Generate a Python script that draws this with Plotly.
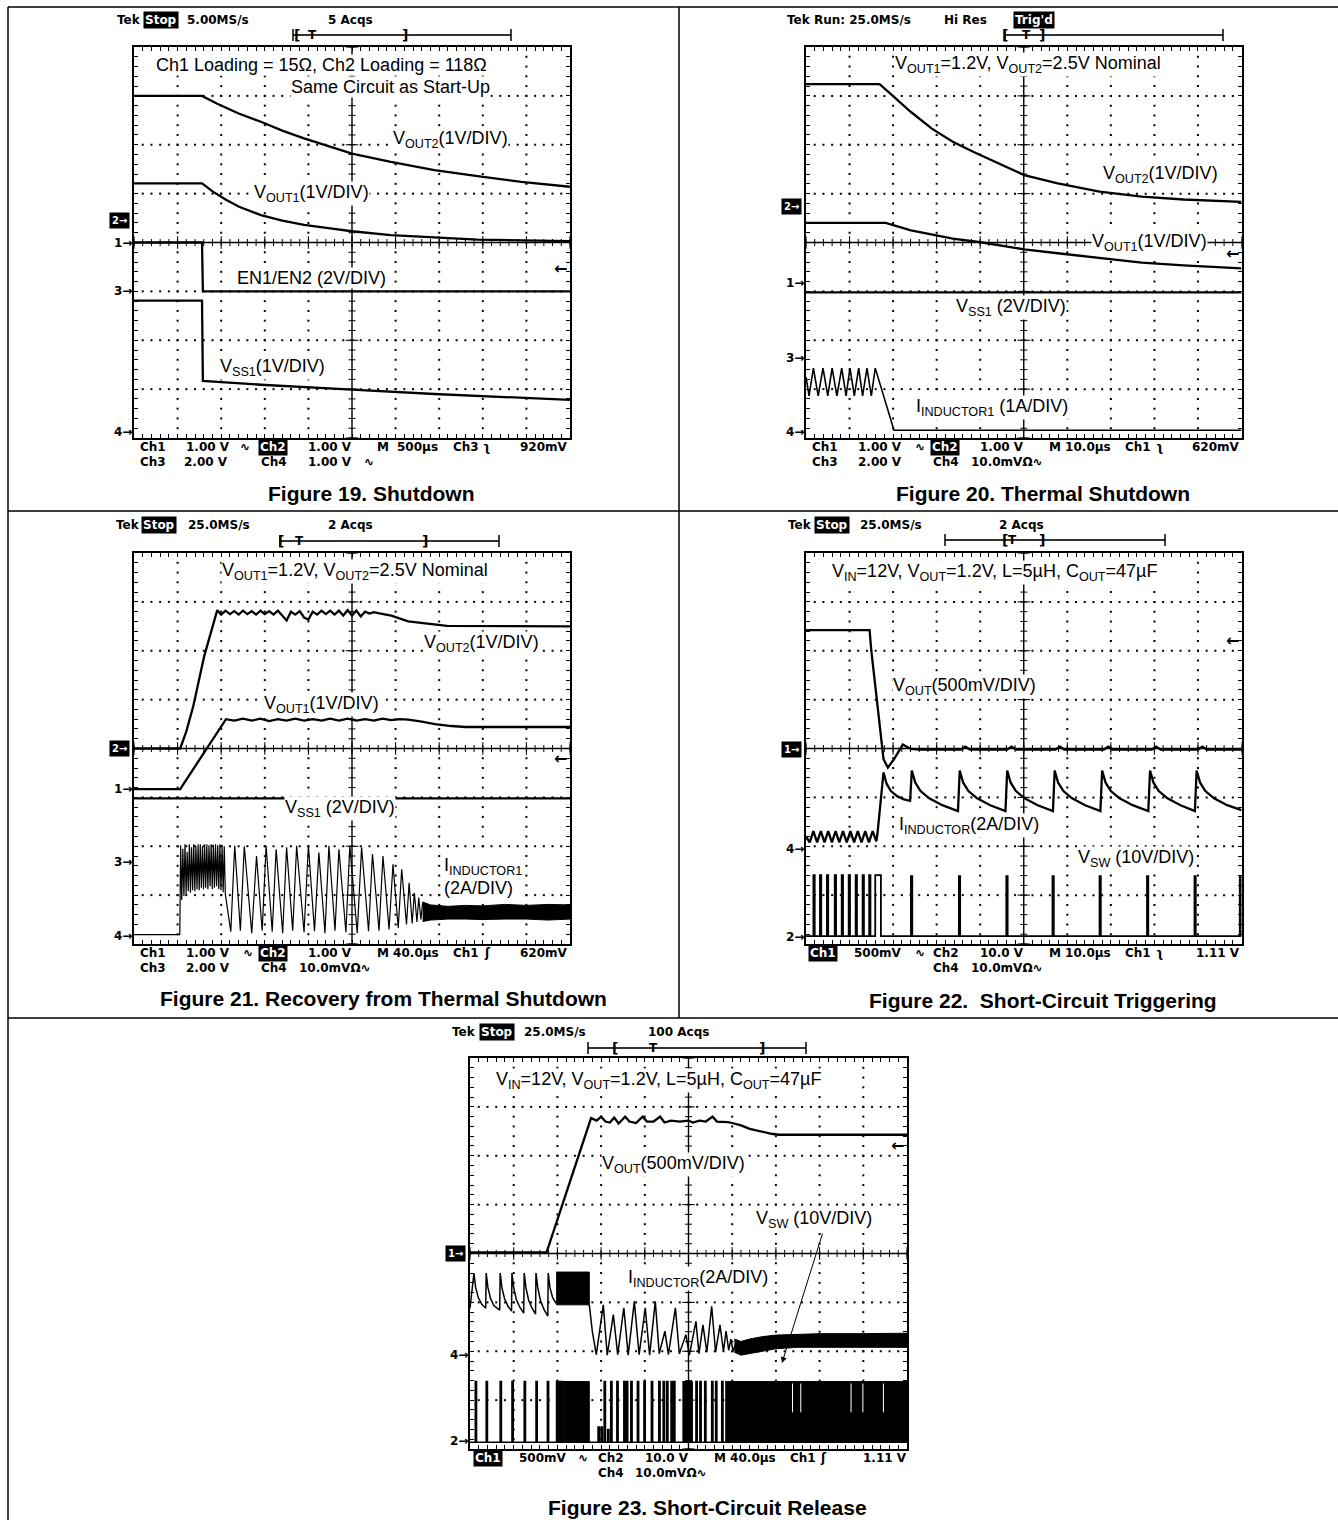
import numpy as np
import plotly.graph_objects as go

W, H = 1338, 1520
LBL = "Liberation Sans, Arial, Helvetica, sans-serif"
TEK = "DejaVu Sans, Verdana, sans-serif"

# ===================== DATA (scope divisions: time 0..10 div, level 0..8 div) =====================
# ---- Figure 19. Shutdown ----
F19_VOUT2_T = [0, 1.56, 1.91, 2.40, 2.91, 3.40, 3.90, 4.50, 5.00, 5.89, 6.89, 7.88, 8.88, 10.0]
F19_VOUT2_V = [7.00, 7.00, 6.84, 6.64, 6.47, 6.29, 6.13, 5.96, 5.82, 5.65, 5.48, 5.36, 5.24, 5.14]
F19_VOUT1_T = [0, 1.56, 1.81, 2.10, 2.41, 2.91, 3.40, 3.90, 4.50, 5.00, 5.89, 6.89, 7.88, 10.0]
F19_VOUT1_V = [5.21, 5.21, 5.04, 4.88, 4.73, 4.56, 4.45, 4.36, 4.29, 4.23, 4.15, 4.10, 4.06, 4.03]
F19_EN_T = [0, 1.56, 1.58, 10.0]
F19_EN_V = [4.00, 4.00, 3.00, 3.00]
F19_VSS_T = [0, 1.56, 1.58, 2.91, 5.00, 6.89, 10.0]
F19_VSS_V = [2.81, 2.81, 1.17, 1.09, 0.99, 0.90, 0.78]

# ---- Figure 20. Thermal Shutdown ----
F20_VOUT2_T = [0, 1.69, 2.02, 2.41, 2.89, 3.37, 3.85, 4.34, 5.01, 5.78, 6.74, 7.71, 8.67, 10.0]
F20_VOUT2_V = [7.24, 7.24, 6.98, 6.67, 6.33, 6.06, 5.85, 5.65, 5.38, 5.21, 5.04, 4.94, 4.88, 4.83]
F20_VOUT1_T = [0, 1.83, 2.41, 3.37, 4.05, 5.01, 5.78, 6.74, 7.71, 8.67, 10.0]
F20_VOUT1_V = [4.40, 4.40, 4.25, 4.08, 4.00, 3.86, 3.78, 3.68, 3.59, 3.53, 3.47]
F20_VSS_T = [0, 10.0]
F20_VSS_V = [2.98, 2.98]
F20_IL_T = [0, 0.07, 0.17, 0.28, 0.39, 0.50, 0.60, 0.71, 0.82, 0.92,
            1.01, 1.11, 1.21, 1.30, 1.40, 1.50, 1.59, 2.02, 10.0]
F20_IL_V = [1.25, 0.86, 1.43, 0.86, 1.43, 0.86, 1.43, 0.86, 1.43, 0.86,
            1.43, 0.86, 1.43, 0.86, 1.43, 0.86, 1.43, 0.16, 0.16]

# ---- Figure 21. Recovery from Thermal Shutdown ----
F21_VOUT2_T = [0, 1.06, 1.20, 1.36, 1.61, 1.80, 1.91,
               2.00, 2.10, 2.20, 2.30, 2.40, 2.50, 2.60, 2.70, 2.80, 2.90,
               3.00, 3.10, 3.20, 3.30, 3.40, 3.50, 3.60, 3.70, 3.80, 3.90,
               4.00, 4.10, 4.20, 4.30, 4.40, 4.50, 4.60, 4.70, 4.80, 4.90,
               5.00, 5.10, 5.20, 5.30, 5.40, 5.50, 5.60,
               5.90, 6.29, 6.69, 7.18, 10.0]
F21_VOUT2_V = [4.00, 4.00, 4.35, 4.87, 5.89, 6.50, 6.83,
               6.74, 6.82, 6.75, 6.81, 6.74, 6.82, 6.75, 6.81, 6.74, 6.82,
               6.75, 6.81, 6.74, 6.82, 6.72, 6.62, 6.80, 6.74, 6.81, 6.68,
               6.64, 6.80, 6.74, 6.82, 6.75, 6.82, 6.74, 6.82, 6.72, 6.83,
               6.72, 6.82, 6.70, 6.80, 6.76, 6.79, 6.77,
               6.72, 6.60, 6.56, 6.51, 6.50]
F21_VOUT1_T = [0, 1.06, 2.11, 2.30, 2.50, 2.70, 2.90, 3.10, 3.30, 3.50,
               3.70, 3.90, 4.10, 4.30, 4.50, 4.70, 4.90, 5.10, 5.30, 5.50,
               5.70, 5.90, 6.10, 6.29, 6.60, 6.90, 7.28, 7.60, 10.0]
F21_VOUT1_V = [3.17, 3.17, 4.60, 4.57, 4.61, 4.57, 4.61, 4.56, 4.60, 4.57,
               4.61, 4.57, 4.60, 4.57, 4.61, 4.57, 4.61, 4.57, 4.60, 4.57,
               4.61, 4.58, 4.60, 4.59, 4.55, 4.50, 4.46, 4.44, 4.44]
F21_VSS_T = [0, 10.0]
F21_VSS_V = [2.98, 2.98]
F21_IL_T = [0, 1.05, 1.07,
            1.095, 1.120, 1.145, 1.170, 1.195, 1.220, 1.245, 1.270, 1.295, 1.320,
            1.345, 1.370, 1.395, 1.420, 1.445, 1.470, 1.495, 1.520, 1.545, 1.570,
            1.595, 1.620, 1.645, 1.670, 1.695, 1.720, 1.745, 1.770, 1.795, 1.820,
            1.845, 1.870, 1.895, 1.920, 1.945, 1.970, 1.995, 2.020, 2.045, 2.070,
            2.095,
            2.22, 2.31, 2.44, 2.53, 2.70, 2.81, 2.94, 3.03, 3.17, 3.26,
            3.41, 3.50, 3.64, 3.73, 3.90, 4.00, 4.14, 4.24, 4.38, 4.47,
            4.61, 4.70, 4.86, 4.95, 5.12, 5.22, 5.38, 5.47, 5.62, 5.71,
            5.85, 5.94, 6.06, 6.14, 6.25, 6.31, 6.38, 6.43, 6.49, 6.53,
            6.58, 6.62]
F21_IL_V = [0.19, 0.19, 2.02,
            0.90, 1.95, 0.98, 2.04, 1.02, 1.88, 1.08, 2.04, 1.05, 1.98,
            1.10, 2.04, 1.08, 2.00, 1.12, 2.04, 1.10, 2.04, 1.15, 2.00,
            1.12, 2.04, 1.15, 2.04, 1.12, 2.02, 1.18, 2.04, 1.12, 2.03,
            1.15, 2.04, 1.18, 2.02, 1.12, 2.04, 1.10, 2.03, 1.06, 2.00,
            1.02,
            0.25, 2.01, 0.27, 2.00, 0.22, 1.80, 0.27, 2.01, 0.25, 1.94,
            0.22, 1.98, 0.27, 2.01, 0.24, 2.01, 0.26, 1.87, 0.22, 2.01,
            0.27, 1.94, 0.24, 2.01, 0.22, 1.98, 0.26, 1.84, 0.27, 1.80,
            0.30, 1.63, 0.33, 1.53, 0.40, 1.25, 0.42, 1.05, 0.45, 0.95,
            0.50, 0.85]
F21_ILBAND_T = [6.62, 6.80, 7.20, 7.60, 8.00, 8.50, 9.00, 9.50, 10.0]
F21_ILBAND_HI = [0.86, 0.80, 0.77, 0.79, 0.78, 0.81, 0.79, 0.81, 0.80]
F21_ILBAND_LO = [0.46, 0.49, 0.51, 0.51, 0.50, 0.51, 0.51, 0.49, 0.51]

# ---- Figure 22. Short-Circuit Triggering ----
F22_VOUT_T = [0, 1.46, 1.50, 1.64, 1.78, 1.88, 2.02, 2.22, 2.41, 2.60,
              3.56, 3.66, 3.76, 4.62, 4.72, 4.82, 5.73, 5.83, 5.93, 6.84,
              6.94, 7.04, 7.94, 8.04, 8.14, 9.00, 9.10, 9.20, 10.0]
F22_VOUT_V = [6.42, 6.42, 6.00, 4.87, 3.78, 3.61, 3.78, 4.08, 3.99, 3.98,
              3.98, 4.04, 3.98, 3.98, 4.04, 3.98, 3.98, 4.04, 3.98, 3.98,
              4.04, 3.98, 3.98, 4.04, 3.98, 3.98, 4.04, 3.98, 3.98]
F22_IL_T = [0, 0.085, 0.17, 0.255, 0.34, 0.425, 0.51, 0.595, 0.68, 0.765,
            0.85, 0.935, 1.02, 1.105, 1.19, 1.275, 1.36, 1.445, 1.53, 1.615,
            1.64, 1.78, 1.85, 1.95, 2.10, 2.25, 2.39,
            2.43, 2.51, 2.63, 2.83, 3.13, 3.49,
            3.53, 3.61, 3.73, 3.93, 4.23, 4.58,
            4.62, 4.70, 4.82, 5.02, 5.32, 5.67,
            5.71, 5.79, 5.91, 6.11, 6.41, 6.76,
            6.80, 6.88, 7.00, 7.20, 7.50, 7.86,
            7.90, 7.98, 8.10, 8.30, 8.60, 8.93,
            8.97, 9.05, 9.17, 9.37, 9.67, 10.0]
F22_IL_V = [2.20, 2.08, 2.31, 2.08, 2.31, 2.08, 2.31, 2.08, 2.31, 2.08,
            2.31, 2.08, 2.31, 2.08, 2.31, 2.08, 2.31, 2.08, 2.31, 2.10,
            2.25, 3.51, 3.28, 3.13, 3.02, 2.96, 2.93,
            3.55, 3.30, 3.13, 2.98, 2.84, 2.72,
            3.55, 3.30, 3.13, 2.98, 2.84, 2.72,
            3.55, 3.30, 3.13, 2.98, 2.84, 2.72,
            3.55, 3.30, 3.13, 2.98, 2.84, 2.72,
            3.55, 3.30, 3.13, 2.98, 2.84, 2.72,
            3.55, 3.30, 3.13, 2.98, 2.84, 2.72,
            3.55, 3.30, 3.13, 2.98, 2.84, 2.74]
F22_VSW_BASE = 0.16
F22_VSW_START = [0.17, 0.32, 0.48, 0.66, 0.82, 0.98, 1.14, 1.30, 1.45, 1.59,
                 2.41, 3.51, 4.60, 5.66, 6.74, 7.83, 8.92, 9.96]
F22_VSW_WIDTH = [0.03, 0.03, 0.03, 0.03, 0.03, 0.03, 0.03, 0.03, 0.03, 0.13,
                 0.03, 0.03, 0.03, 0.03, 0.03, 0.03, 0.03, 0.03]
F22_VSW_TOP = [1.41, 1.41, 1.41, 1.41, 1.41, 1.41, 1.41, 1.41, 1.41, 1.41,
               1.39, 1.39, 1.39, 1.39, 1.39, 1.39, 1.39, 1.39]

# ---- Figure 23. Short-Circuit Release ----
F23_VOUT_T = [0, 1.75, 2.77, 2.90, 3.00, 3.10, 3.20, 3.30, 3.40, 3.55,
              3.65, 3.80, 3.95, 4.05, 4.20, 4.35, 4.45, 4.60, 4.80, 5.00,
              5.10, 5.25, 5.40, 5.55, 5.65, 5.90, 6.00, 6.20, 6.40, 6.67,
              6.90, 7.06, 10.0]
F23_VOUT_V = [4.02, 4.02, 6.77, 6.72, 6.80, 6.70, 6.68, 6.78, 6.66, 6.80,
              6.70, 6.67, 6.80, 6.70, 6.70, 6.80, 6.68, 6.72, 6.70, 6.72,
              6.68, 6.72, 6.70, 6.80, 6.70, 6.69, 6.67, 6.62, 6.55, 6.49,
              6.45, 6.43, 6.43]
F23_ILA_T = [0, 0.09, 0.13, 0.19, 0.27, 0.36,
             0.37, 0.41, 0.47, 0.55, 0.68,
             0.69, 0.73, 0.79, 0.87, 0.95,
             0.96, 1.00, 1.06, 1.14, 1.23,
             1.24, 1.28, 1.34, 1.42, 1.50,
             1.51, 1.55, 1.61, 1.69, 1.78,
             1.79, 1.83, 1.89, 1.97]
F23_ILA_V = [2.88, 3.60, 3.30, 3.10, 2.96, 2.88,
             3.60, 3.30, 3.08, 2.93, 2.84,
             3.60, 3.30, 3.08, 2.92, 2.82,
             3.60, 3.30, 3.06, 2.90, 2.78,
             3.60, 3.30, 3.05, 2.88, 2.76,
             3.60, 3.30, 3.05, 2.86, 2.72,
             3.60, 3.30, 3.10, 2.98]
F23_ILDENSE_T = [1.97, 2.73]
F23_ILDENSE_HI = [3.62, 3.62]
F23_ILDENSE_LO = [2.95, 2.95]
F23_ILB_T = [2.73, 2.80, 2.89, 3.05, 3.14, 3.28, 3.38, 3.52, 3.62, 3.76,
             3.87, 4.01, 4.11, 4.24, 4.33, 4.46, 4.54, 4.70, 4.79, 4.94,
             5.02, 5.17, 5.24, 5.33, 5.42, 5.53, 5.62, 5.72, 5.80, 5.86,
             5.92, 5.97, 6.02, 6.08]
F23_ILB_V = [2.95, 2.40, 1.93, 2.95, 1.92, 2.75, 1.93, 2.89, 1.92, 3.02,
             1.93, 2.89, 1.92, 3.02, 1.95, 2.41, 1.93, 2.89, 1.95, 2.34,
             1.92, 2.61, 1.95, 2.54, 1.98, 2.92, 1.98, 2.54, 2.00, 2.41,
             2.02, 2.25, 2.00, 2.15]
F23_ILBAND_T = [6.05, 6.20, 6.40, 6.70, 7.00, 7.50, 8.00, 9.00, 10.0]
F23_ILBAND_HI = [2.25, 2.20, 2.25, 2.30, 2.33, 2.35, 2.36, 2.36, 2.37]
F23_ILBAND_LO = [1.98, 1.92, 1.95, 2.00, 2.05, 2.08, 2.08, 2.08, 2.08]
F23_VSW_BASE = 0.14
F23_VSW_HIGH = 1.38
F23_VSW_START = [0.12, 0.37, 0.69, 0.96, 1.24, 1.51, 1.77, 1.98, 2.04, 2.09,
                 2.93, 3.00, 3.07, 3.15, 3.22, 3.36, 3.52, 3.58, 3.68, 3.83,
                 3.98, 4.15, 4.32, 4.42, 4.50, 4.60, 4.66, 5.17, 5.26, 5.37,
                 5.53, 5.62, 5.76]
F23_VSW_WIDTH = [0.03] * 33
F23_VSW_TOP = [1.38, 1.38, 1.38, 1.38, 1.38, 1.38, 1.38, 1.38, 1.38, 1.38,
               0.45, 0.45, 1.38, 0.40, 1.38, 1.38, 1.38, 1.38, 1.38, 1.38,
               1.38, 1.38, 1.38, 1.38, 1.38, 1.38, 1.38, 1.38, 1.38, 1.38,
               1.38, 1.38, 1.38]
F23_VSW_BLOCK_START = [2.13, 4.86, 5.84]
F23_VSW_BLOCK_END = [2.73, 5.09, 10.0]
F23_VSW_GAPS = [7.38, 7.57, 8.72, 8.99, 9.46]

# channel ground markers (label, level in div, inverse box) and trigger level arrows
MARK = [
    [("1", 4.00, False), ("3", 3.00, False), ("4", 0.13, False), ("2", 4.46, True)],
    [("2", 4.73, True), ("1", 3.17, False), ("3", 1.63, False), ("4", 0.12, False)],
    [("2", 4.00, True), ("1", 3.17, False), ("3", 1.67, False), ("4", 0.17, False)],
    [("1", 3.98, True), ("4", 1.94, False), ("2", 0.15, False)],
    [("1", 3.99, True), ("4", 1.93, False), ("2", 0.17, False)],
]
TRIG = [3.46, 3.78, 3.80, 6.21, 6.21]

# ===================== LAYOUT GEOMETRY (pixels) =====================
BOX = [(134, 570, 47, 438), (806, 1241.5, 47, 438), (134, 570, 553, 944),
       (806, 1241.5, 553, 944), (470, 907, 1058, 1449)]
XID = ["x", "x2", "x3", "x4", "x5"]
YID = ["y", "y2", "y3", "y4", "y5"]
TRACE_W = 2.3

fig = go.Figure()
annotations = []
shapes = []


def P(x, y):
    return x / W, 1 - y / H


def text(x, y, s, size=18, anchor="left", family=LBL, bg="rgba(0,0,0,0)", color="black", pad=0):
    X, Y = P(x, y)
    annotations.append(dict(xref="paper", yref="paper", x=X, y=Y, text=s, showarrow=False,
                            xanchor=anchor, yanchor="middle", align="left",
                            font=dict(family=family, size=size, color=color),
                            bgcolor=bg, borderpad=pad))


def hline(x0, x1, y, w=1.5, color="black"):
    X0, Y0 = P(x0, y)
    X1, _ = P(x1, y)
    shapes.append(dict(type="line", xref="paper", yref="paper", x0=X0, x1=X1, y0=Y0, y1=Y0,
                       line=dict(color=color, width=w)))


def vline(x, y0, y1, w=1.5, color="black"):
    X, Y0 = P(x, y0)
    _, Y1 = P(x, y1)
    shapes.append(dict(type="line", xref="paper", yref="paper", x0=X, x1=X, y0=Y0, y1=Y1,
                       line=dict(color=color, width=w)))


def add_line(i, t, v, width=TRACE_W, color="black", shape="linear"):
    fig.add_trace(go.Scatter(x=list(t), y=list(v), mode="lines",
                             line=dict(color=color, width=width, shape=shape),
                             xaxis=XID[i], yaxis=YID[i], hoverinfo="skip", showlegend=False))


def add_band(i, t, hi, lo):
    t = list(t)
    fig.add_trace(go.Scatter(x=t + t[::-1], y=list(hi) + list(lo)[::-1], mode="lines",
                             fill="toself", fillcolor="black", line=dict(color="black", width=1),
                             xaxis=XID[i], yaxis=YID[i], hoverinfo="skip", showlegend=False))


def add_pulses(i, starts, widths, tops, base, width=1.6):
    xs, ys = [0.0], [base]
    for s, w, h in zip(starts, widths, tops):
        xs += [s, s + w]
        ys += [h, base]
    xs.append(10.0)
    ys.append(base)
    add_line(i, xs, ys, width=width, shape="hv")


# ---- axes & graticule ----
minor_x = np.round(np.arange(0.2, 10.0, 0.2), 3)
minor_y = np.round(np.arange(0.2, 8.0, 0.2), 3)
all_x = np.round(np.arange(0, 10.01, 0.2), 3)
all_y = np.round(np.arange(0, 8.01, 0.2), 3)
layout_axes = {}
for i, (l, r, t, b) in enumerate(BOX):
    xa = "xaxis" if i == 0 else f"xaxis{i+1}"
    ya = "yaxis" if i == 0 else f"yaxis{i+1}"
    common = dict(showline=True, linecolor="black", linewidth=2, mirror="ticks",
                  ticks="inside", tickmode="linear", tick0=0, dtick=0.2, ticklen=4,
                  tickwidth=1, tickcolor="black", showticklabels=False, showgrid=False,
                  zeroline=False, fixedrange=True)
    layout_axes[xa] = dict(domain=[l / W, r / W], range=[0, 10], anchor=YID[i], **common)
    layout_axes[ya] = dict(domain=[1 - b / H, 1 - t / H], range=[0, 8], anchor=XID[i], **common)

    gx, gy = [], []
    for j in [1, 2, 3, 5, 6, 7]:
        gx += list(minor_x)
        gy += [j] * len(minor_x)
    for k in [1, 2, 3, 4, 6, 7, 8, 9]:
        gx += [k] * len(minor_y)
        gy += list(minor_y)
    fig.add_trace(go.Scatter(x=gx, y=gy, mode="markers",
                             marker=dict(symbol="square", size=2, color="black", line=dict(width=0)),
                             xaxis=XID[i], yaxis=YID[i], hoverinfo="skip", showlegend=False))
    add_line(i, [0, 10], [4, 4], width=1.4)
    add_line(i, [5, 5], [0, 8], width=1.4)
    fig.add_trace(go.Scatter(x=list(all_x), y=[4] * len(all_x), mode="markers",
                             marker=dict(symbol="line-ns", size=5, line=dict(width=1, color="black")),
                             xaxis=XID[i], yaxis=YID[i], hoverinfo="skip", showlegend=False))
    fig.add_trace(go.Scatter(x=[5] * len(all_y), y=list(all_y), mode="markers",
                             marker=dict(symbol="line-ew", size=5, line=dict(width=1, color="black")),
                             xaxis=XID[i], yaxis=YID[i], hoverinfo="skip", showlegend=False))
    fig.add_trace(go.Scatter(x=list(range(11)), y=[4] * 11, mode="markers",
                             marker=dict(symbol="line-ns", size=9, line=dict(width=1, color="black")),
                             xaxis=XID[i], yaxis=YID[i], hoverinfo="skip", showlegend=False))
    fig.add_trace(go.Scatter(x=[5] * 9, y=list(range(9)), mode="markers",
                             marker=dict(symbol="line-ew", size=9, line=dict(width=1, color="black")),
                             xaxis=XID[i], yaxis=YID[i], hoverinfo="skip", showlegend=False))

    # ground markers and trigger arrow
    for lab, lev, inv in MARK[i]:
        if inv:
            annotations.append(dict(xref=f"{XID[i]} domain", yref=YID[i], x=0, y=lev,
                                    text="<b>" + lab + "→</b>", showarrow=False, xanchor="right",
                                    yanchor="middle", xshift=-4, bgcolor="black", borderpad=2,
                                    font=dict(family=TEK, size=10, color="white")))
        else:
            annotations.append(dict(xref=f"{XID[i]} domain", yref=YID[i], x=0, y=lev,
                                    text="<b>" + lab + "→</b>", showarrow=False, xanchor="right",
                                    yanchor="middle", xshift=0,
                                    font=dict(family=TEK, size=12, color="black")))
    annotations.append(dict(xref=f"{XID[i]} domain", yref=YID[i], x=1, y=TRIG[i],
                            text="<b>←</b>", showarrow=False, xanchor="right", yanchor="middle",
                            xshift=-1, font=dict(family=TEK, size=16, color="black")))

# ---- waveforms ----
add_line(0, F19_VOUT2_T, F19_VOUT2_V)
add_line(0, F19_VOUT1_T, F19_VOUT1_V)
add_line(0, F19_EN_T, F19_EN_V)
add_line(0, F19_VSS_T, F19_VSS_V)

add_line(1, F20_VOUT2_T, F20_VOUT2_V)
add_line(1, F20_VOUT1_T, F20_VOUT1_V)
add_line(1, F20_VSS_T, F20_VSS_V)
add_line(1, F20_IL_T, F20_IL_V, width=1.6)

add_line(2, F21_VOUT2_T, F21_VOUT2_V)
add_line(2, F21_VOUT1_T, F21_VOUT1_V)
add_line(2, F21_VSS_T, F21_VSS_V)
add_line(2, F21_IL_T, F21_IL_V, width=1.2)
add_band(2, F21_ILBAND_T, F21_ILBAND_HI, F21_ILBAND_LO)

add_line(3, F22_VOUT_T, F22_VOUT_V)
add_line(3, F22_IL_T, F22_IL_V)
add_pulses(3, F22_VSW_START, F22_VSW_WIDTH, F22_VSW_TOP, F22_VSW_BASE, width=1.8)

add_line(4, F23_VOUT_T, F23_VOUT_V)
add_line(4, F23_ILA_T, F23_ILA_V, width=1.5)
add_band(4, F23_ILDENSE_T, F23_ILDENSE_HI, F23_ILDENSE_LO)
add_line(4, F23_ILB_T, F23_ILB_V, width=1.5)
add_band(4, F23_ILBAND_T, F23_ILBAND_HI, F23_ILBAND_LO)
add_pulses(4, F23_VSW_START, F23_VSW_WIDTH, F23_VSW_TOP, F23_VSW_BASE, width=1.5)
for a, b in zip(F23_VSW_BLOCK_START, F23_VSW_BLOCK_END):
    add_band(4, [a, b], [F23_VSW_HIGH, F23_VSW_HIGH], [F23_VSW_BASE, F23_VSW_BASE])
gx, gy = [], []
for g in F23_VSW_GAPS:
    gx += [g, g, None]
    gy += [0.75, 1.34, None]
add_line(4, gx, gy, width=1.0, color="white")

# ---- scope header / status text ----
HEAD = [
    (20, [(115, "Tek", False), (143, "Stop", True), (185, "5.00MS/s", False)], (350, "5 Acqs")),
    (20, [(785, "Tek Run: 25.0MS/s", False), (942, "Hi Res", False), (1013, "Trig'd", True)], None),
    (525, [(114, "Tek", False), (141, "Stop", True), (186, "25.0MS/s", False)], (350, "2 Acqs")),
    (525, [(786, "Tek", False), (814, "Stop", True), (858, "25.0MS/s", False)], (1022, "2 Acqs")),
    (1032, [(450, "Tek", False), (479, "Stop", True), (522, "25.0MS/s", False)], (679, "100 Acqs")),
]
for y, toks, acq in HEAD:
    for x, s, inv in toks:
        text(x, y, "<b>" + s + "</b>", size=12, family=TEK,
             bg="black" if inv else "rgba(0,0,0,0)", color="white" if inv else "black", pad=1)
    if acq:
        text(acq[0], y, "<b>" + acq[1] + "</b>", size=12, family=TEK, anchor="center")

# record-length bars: y, start, end, "[" x, "T" x, "]" x
RBAR = [(35, 293, 511, 297, 312, 405), (35, 1005, 1223, 1005, 1026, 1042),
        (541, 280, 499, 281, 299, 425), (540, 945, 1165, 1005, 1012, 1042),
        (1048, 588, 806, 615, 653, 762)]
for y, x0, x1, xb, xt, xe in RBAR:
    hline(x0, x1, y, w=2, color="#333")
    vline(x0, y - 6, y + 6, w=1.5)
    vline(x1, y - 6, y + 6, w=1.5)
    text(xb, y, "<b>[</b>", size=14, family=TEK, anchor="center")
    text(xt, y, "<b>T</b>", size=12, family=TEK, anchor="center")
    text(xe, y, "<b>]</b>", size=14, family=TEK, anchor="center")

# bottom status rows (offset from grid left, text, inverse)
BOT = [
    ([(4, "Ch1", 0), (50, "1.00 V", 0), (104, "∿", 0), (124, "Ch2", 1), (172, "1.00 V", 0),
      (241, "M", 0), (261, "500µs", 0), (317, "Ch3", 0), (347, "ʅ", 0), (384, "920mV", 0)],
     [(4, "Ch3", 0), (48, "2.00 V", 0), (125, "Ch4", 0), (172, "1.00 V", 0), (228, "∿", 0)]),
    ([(4, "Ch1", 0), (50, "1.00 V", 0), (107, "∿", 0), (124, "Ch2", 1), (172, "1.00 V", 0),
      (241, "M 10.0µs", 0), (317, "Ch1", 0), (348, "ʅ", 0), (384, "620mV", 0)],
     [(4, "Ch3", 0), (50, "2.00 V", 0), (125, "Ch4", 0), (163, "10.0mVΩ∿", 0)]),
    ([(4, "Ch1", 0), (50, "1.00 V", 0), (107, "∿", 0), (124, "Ch2", 1), (172, "1.00 V", 0),
      (241, "M 40.0µs", 0), (317, "Ch1", 0), (348, "ʃ", 0), (384, "620mV", 0)],
     [(4, "Ch3", 0), (50, "2.00 V", 0), (125, "Ch4", 0), (163, "10.0mVΩ∿", 0)]),
    ([(2, "Ch1", 1), (46, "500mV", 0), (107, "∿", 0), (125, "Ch2", 0), (172, "10.0 V", 0),
      (241, "M 10.0µs", 0), (317, "Ch1", 0), (348, "ʅ", 0), (388, "1.11 V", 0)],
     [(125, "Ch4", 0), (163, "10.0mVΩ∿", 0)]),
    ([(3, "Ch1", 1), (47, "500mV", 0), (106, "∿", 0), (126, "Ch2", 0), (173, "10.0 V", 0),
      (242, "M 40.0µs", 0), (318, "Ch1", 0), (348, "ʃ", 0), (391, "1.11 V", 0)],
     [(126, "Ch4", 0), (163, "10.0mVΩ∿", 0)]),
]
for i, (row1, row2) in enumerate(BOT):
    l, r, t, b = BOX[i]
    for yoff, row in ((9, row1), (24, row2)):
        for off, s, inv in row:
            text(l + off, b + yoff, "<b>" + s + "</b>", size=12, family=TEK,
                 bg="black" if inv else "rgba(0,0,0,0)", color="white" if inv else "black", pad=1)

# in-graticule labels (x left, y centre, text); white background hides graticule behind text
LABELS = [
    (155, 65, "Ch1 Loading = 15Ω, Ch2 Loading = 118Ω"),
    (290, 87, "Same Circuit as Start-Up"),
    (392, 140, "V<sub>OUT2</sub>(1V/DIV)"),
    (253, 193, "V<sub>OUT1</sub>(1V/DIV)"),
    (236, 278, "EN1/EN2 (2V/DIV)"),
    (219, 367, "V<sub>SS1</sub>(1V/DIV)"),
    (894, 65, "V<sub>OUT1</sub>=1.2V, V<sub>OUT2</sub>=2.5V Nominal"),
    (1102, 175, "V<sub>OUT2</sub>(1V/DIV)"),
    (1091, 242, "V<sub>OUT1</sub>(1V/DIV)"),
    (955, 308, "V<sub>SS1</sub> (2V/DIV)"),
    (915, 408, "I<sub>INDUCTOR1</sub> (1A/DIV)"),
    (221, 572, "V<sub>OUT1</sub>=1.2V, V<sub>OUT2</sub>=2.5V Nominal"),
    (423, 643, "V<sub>OUT2</sub>(1V/DIV)"),
    (263, 704, "V<sub>OUT1</sub>(1V/DIV)"),
    (284, 809, "V<sub>SS1</sub> (2V/DIV)"),
    (443, 876, "I<sub>INDUCTOR1</sub><br>(2A/DIV)"),
    (831, 573, "V<sub>IN</sub>=12V, V<sub>OUT</sub>=1.2V, L=5µH, C<sub>OUT</sub>=47µF"),
    (892, 686, "V<sub>OUT</sub>(500mV/DIV)"),
    (898, 825, "I<sub>INDUCTOR</sub>(2A/DIV)"),
    (1077, 858, "V<sub>SW</sub> (10V/DIV)"),
    (495, 1080, "V<sub>IN</sub>=12V, V<sub>OUT</sub>=1.2V, L=5µH, C<sub>OUT</sub>=47µF"),
    (601, 1164, "V<sub>OUT</sub>(500mV/DIV)"),
    (755, 1219, "V<sub>SW</sub> (10V/DIV)"),
    (627, 1278, "I<sub>INDUCTOR</sub>(2A/DIV)"),
]
for x, y, s in LABELS:
    text(x, y, s, size=18, bg="white")

# arrow from V_SW label to the switching trace (Figure 23)
HX, HY = P(782, 1363)
annotations.append(dict(xref="paper", yref="paper", x=HX, y=HY, ax=41, ay=-131, text="",
                        showarrow=True, arrowhead=2, arrowsize=1.2, arrowwidth=1, arrowcolor="black",
                        standoff=0))

# captions
CAPS = [("Figure 19. Shutdown", 371, 493), ("Figure 20. Thermal Shutdown", 1043, 493),
        ("Figure 21. Recovery from Thermal Shutdown", 383, 999),
        ("Figure 22.\u00a0 Short-Circuit Triggering", 1043, 1000),
        ("Figure 23. Short-Circuit Release", 707, 1507)]
for s, x, y in CAPS:
    text(x, y, "<b>" + s + "</b>", size=21, anchor="center")

# table rules
hline(8, 1338, 7)
vline(8, 7, 1520)
vline(679, 7, 1018)
hline(8, 1338, 511)
hline(8, 1338, 1018)

fig.update_layout(width=W, height=H, margin=dict(l=0, r=0, t=0, b=0),
                  paper_bgcolor="white", plot_bgcolor="white", showlegend=False,
                  annotations=annotations, shapes=shapes, **layout_axes)
fig.write_html("out.html", config={"displayModeBar": False, "staticPlot": True},
               post_script="document.body.style.margin='0px';document.body.style.overflow='hidden';")
